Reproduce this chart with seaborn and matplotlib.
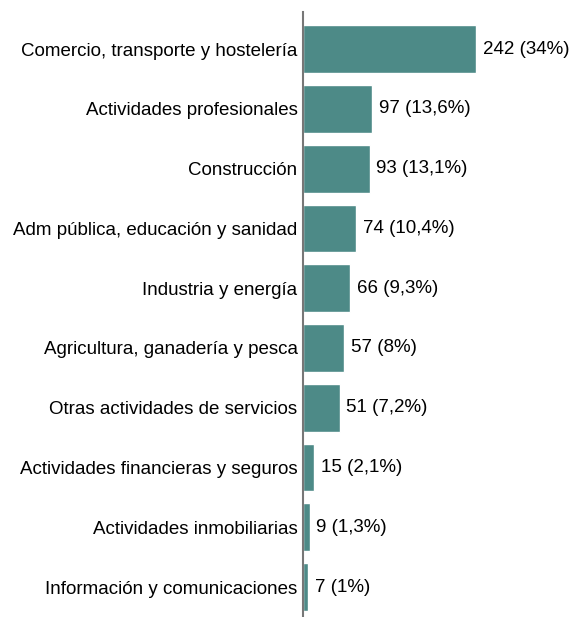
import matplotlib
matplotlib.use('Agg')
import matplotlib.pyplot as plt
import seaborn as sns
import pandas as pd

sectors = ['Comercio, transporte y hostelería', 'Actividades profesionales',
           'Construcción', 'Adm pública, educación y sanidad',
           'Industria y energía', 'Agricultura, ganadería y pesca',
           'Otras actividades de servicios', 'Actividades financieras y seguros',
           'Actividades inmobiliarias', 'Información y comunicaciones']
counts = [242, 97, 93, 74, 66, 57, 51, 15, 9, 7]
shares = ['34%', '13,6%', '13,1%', '10,4%', '9,3%', '8%', '7,2%', '2,1%', '1,3%', '1%']

df = pd.DataFrame({'sector': sectors, 'count': counts})

sns.set_style('white')
plt.rcParams['font.family'] = ['Liberation Sans', 'DejaVu Sans']

fig = plt.figure(figsize=(5.73, 6.17), dpi=100)
ax = fig.add_axes([0.529, 0.0, 0.471, 0.9805])

sns.barplot(data=df, x='count', y='sector', color='#4d8a87', saturation=1,
            width=0.8, ax=ax)

# value labels: count (share)
for i, (c, s) in enumerate(zip(counts, shares)):
    ax.annotate(f'{c} ({s})', (c, i), xytext=(5, 0), textcoords='offset points',
                va='center', ha='left', fontsize=13.5, color='black')

ax.set_xlim(0, 378)
ax.set_ylim(9.5, -0.62)
ax.set_xlabel('')
ax.set_ylabel('')
ax.set_xticks([])
ax.tick_params(axis='y', length=0, labelsize=13.5, labelcolor='black', pad=4)
for side in ['top', 'right', 'bottom']:
    ax.spines[side].set_visible(False)
ax.spines['left'].set_color('#777777')
ax.spines['left'].set_linewidth(1.5)

fig.savefig('out.png', dpi=100)
